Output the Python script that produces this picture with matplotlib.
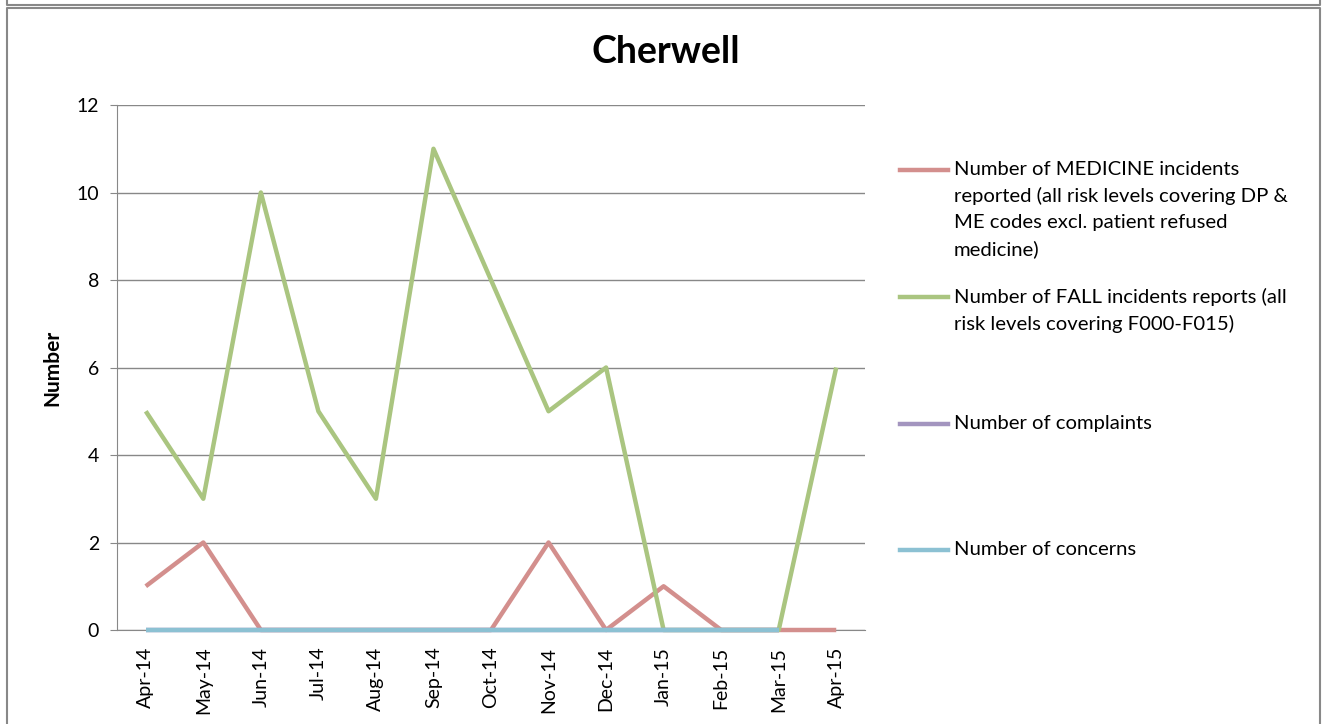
import numpy as np
import matplotlib.pyplot as plt
from matplotlib.lines import Line2D

plt.rcParams['font.family'] = ['Lato', 'DejaVu Sans']

months = ['Apr-14', 'May-14', 'Jun-14', 'Jul-14', 'Aug-14', 'Sep-14', 'Oct-14',
          'Nov-14', 'Dec-14', 'Jan-15', 'Feb-15', 'Mar-15', 'Apr-15']
medicine = [1, 2, 0, 0, 0, 0, 0, 2, 0, 1, 0, 0, 0]
falls = [5, 3, 10, 5, 3, 11, 8, 5, 6, 0, 0, 0, 6]
complaints = [0, 0, 0, 0, 0, 0, 0, 0, 0, 0, 0, 0, np.nan]
concerns = [0, 0, 0, 0, 0, 0, 0, 0, 0, 0, 0, 0, np.nan]

labels = ['Number of MEDICINE incidents\nreported (all risk levels covering DP &\nME codes excl. patient refused\nmedicine)',
          'Number of FALL incidents reports (all\nrisk levels covering F000-F015)',
          'Number of complaints',
          'Number of concerns']
colors = ['#D38F8D', '#AAC580', '#A395BF', '#8CC1D3']

fig = plt.figure(figsize=(13.29, 7.24), dpi=100)
ax = fig.add_axes([117 / 1329, 1 - 630 / 724, 748 / 1329, 525 / 724])

x = np.arange(len(months))
for s, c in zip([medicine, falls, complaints, concerns], colors):
    ax.plot(x, s, color=c, lw=3.2, solid_capstyle='butt', clip_on=False, zorder=3)

ax.set_xlim(-0.5, len(months) - 0.5)
ax.set_ylim(0, 12)
ax.set_yticks(range(0, 13, 2))
ax.set_xticks(x)
ax.set_xticklabels(months, rotation=90, fontsize=14)
ax.tick_params(axis='y', labelsize=14, length=5, color='#888888', pad=8)
ax.tick_params(axis='x', length=0, pad=12)
ax.grid(axis='y', color='#888888', lw=1)
ax.set_axisbelow(True)
for side in ['top', 'right']:
    ax.spines[side].set_visible(False)
for side in ['left', 'bottom']:
    ax.spines[side].set_color('#888888')
ax.set_ylabel('Number', fontsize=15, fontweight='bold', labelpad=10)
fig.text(666 / 1329, 1 - 52 / 724, 'Cherwell', fontsize=27, fontweight='bold',
         ha='center', va='center')

# legend drawn beside the plot, Excel style
ys = [170, 297, 424, 550]
for lab, c, y in zip(labels, colors, ys):
    fy = 1 - y / 724
    fig.add_artist(Line2D([900 / 1329, 948 / 1329], [fy, fy], color=c, lw=3.2,
                          transform=fig.transFigure))
    fig.text(954 / 1329, 1 - (y - 9) / 724, lab, fontsize=14.6, va='top',
             ha='left', linespacing=1.62)

# chart border
fig.add_artist(Line2D([7 / 1329, 7 / 1329, 1320 / 1329, 1320 / 1329],
                      [0, 1 - 8 / 724, 1 - 8 / 724, 0], color='#888888', lw=1.5,
                      transform=fig.transFigure))
fig.add_artist(Line2D([7 / 1329, 7 / 1329, 1320 / 1329, 1320 / 1329],
                      [1, 1 - 5 / 724, 1 - 5 / 724, 1], color='#888888', lw=1.5,
                      transform=fig.transFigure))

fig.savefig('out.png', dpi=100)
